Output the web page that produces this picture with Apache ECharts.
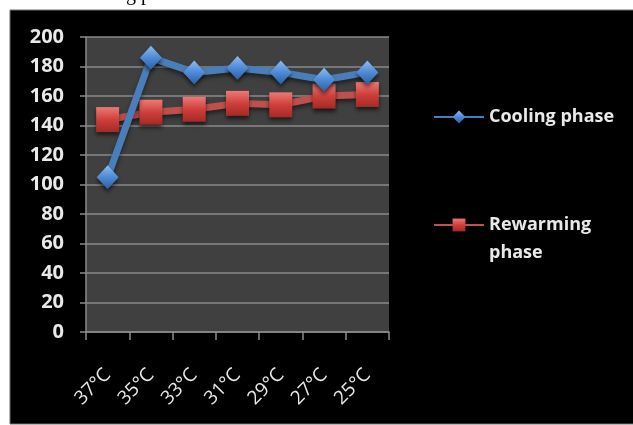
<!DOCTYPE html>
<html>
<head>
<meta charset="utf-8">
<script src="https://cdn.jsdelivr.net/npm/echarts@6/dist/echarts.min.js"></script>
<style>
  html, body { margin: 0; padding: 0; background: #ffffff; }
  #chart { width: 633px; height: 425px; }
</style>
</head>
<body>
<div id="chart"></div>
<script>
// Temperature steps along the x axis
const categories = ['37°C', '35°C', '33°C', '31°C', '29°C', '27°C', '25°C'];
// Series values
const coolingPhase = [105, 186, 176, 179, 176, 171, 176];
const rewarmingPhase = [144, 149, 151, 155, 154, 160, 161];
// Value axis ticks
const yTicks = [0, 20, 40, 60, 80, 100, 120, 140, 160, 180, 200];

const labelFont = '"Open Sans"';
const lightText = '#e9e9e9';
const gridGray = '#8a8a8a';

const chart = echarts.init(document.getElementById('chart'), null, { renderer: 'canvas' });

const diamondFill = new echarts.graphic.LinearGradient(0, 0, 0, 1, [
  { offset: 0, color: '#8cbcf3' },
  { offset: 0.5, color: '#4f8ad6' },
  { offset: 1, color: '#2a5fa3' }
]);
const squareFill = new echarts.graphic.LinearGradient(0, 0, 0, 1, [
  { offset: 0, color: '#ec7a76' },
  { offset: 0.5, color: '#cf3f3b' },
  { offset: 1, color: '#a32a27' }
]);

chart.setOption({
  backgroundColor: '#ffffff',
  animation: false,
  graphic: [
    {
      type: 'rect',
      z: -10,
      shape: { x: 10, y: 10, width: 640, height: 414 },
      style: { fill: '#000000', stroke: '#6e6e6e', lineWidth: 1 }
    },
    {
      type: 'text',
      z: -5,
      x: 116,
      y: 5,
      style: {
        text: 'ng p', font: '20px "Liberation Serif"', fill: '#000000',
        verticalAlign: 'bottom'
      }
    }
  ],
  grid: {
    left: 86,
    top: 37,
    width: 303,
    height: 295,
    show: true,
    backgroundColor: '#404040',
    borderWidth: 0
  },
  legend: [
    {
      data: ['Cooling phase'],
      left: 433,
      top: 108,
      padding: 0,
      itemWidth: 50,
      itemHeight: 16,
      itemGap: 6,
      textStyle: { color: lightText, fontFamily: labelFont, fontWeight: 'bold', fontSize: 18 }
    },
    {
      data: ['Rewarming phase'],
      left: 433,
      top: 183,
      padding: 0,
      itemWidth: 50,
      itemHeight: 16,
      itemGap: 6,
      formatter: function () { return '\nRewarming\nphase'; },
      textStyle: {
        color: lightText, fontFamily: labelFont, fontWeight: 'bold', fontSize: 18,
        lineHeight: 28
      }
    }
  ],
  xAxis: {
    type: 'category',
    data: categories,
    boundaryGap: true,
    axisLine: { show: true, lineStyle: { color: gridGray, width: 1.5 } },
    axisTick: { show: true, length: 8, lineStyle: { color: gridGray, width: 1.5 } },
    axisLabel: {
      rotate: 45,
      margin: 40,
      color: lightText,
      fontFamily: labelFont,
      fontSize: 19
    }
  },
  yAxis: {
    type: 'value',
    min: yTicks[0],
    max: yTicks[yTicks.length - 1],
    interval: yTicks[1] - yTicks[0],
    axisLine: { show: true, lineStyle: { color: gridGray, width: 1.5 } },
    axisTick: { show: true, length: 6, lineStyle: { color: gridGray, width: 1.5 } },
    splitLine: { show: true, lineStyle: { color: gridGray, width: 1.5 } },
    axisLabel: {
      margin: 22,
      color: lightText,
      fontFamily: labelFont,
      fontWeight: 'bold',
      fontSize: 20
    }
  },
  series: [
    {
      name: 'Cooling phase',
      type: 'line',
      data: coolingPhase,
      symbol: 'diamond',
      symbolSize: [22, 24],
      lineStyle: {
        color: '#4a7ebb', width: 7,
        shadowColor: 'rgba(0,0,0,0.5)', shadowBlur: 4, shadowOffsetY: 3
      },
      itemStyle: {
        color: diamondFill, borderWidth: 0,
        shadowColor: 'rgba(0,0,0,0.6)', shadowBlur: 4, shadowOffsetY: 3
      },
      z: 3
    },
    {
      name: 'Rewarming phase',
      type: 'line',
      data: rewarmingPhase,
      symbol: 'rect',
      symbolSize: [23, 25],
      lineStyle: {
        color: '#c0504d', width: 7,
        shadowColor: 'rgba(0,0,0,0.5)', shadowBlur: 4, shadowOffsetY: 3
      },
      itemStyle: {
        color: squareFill, borderWidth: 0,
        shadowColor: 'rgba(0,0,0,0.6)', shadowBlur: 4, shadowOffsetY: 3
      },
      z: 2
    }
  ]
});
</script>
</body>
</html>
